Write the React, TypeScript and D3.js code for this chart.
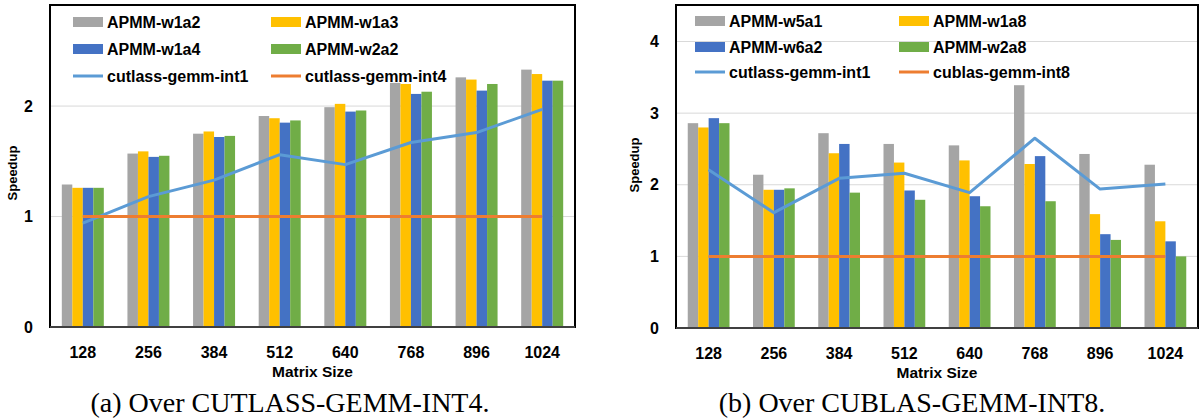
import React from "react";
import * as d3 from "d3";

const sizes = ["128", "256", "384", "512", "640", "768", "896", "1024"];

// Chart (a): over CUTLASS-GEMM-INT4
const aBarNames = ["APMM-w1a2", "APMM-w1a3", "APMM-w1a4", "APMM-w2a2"];
const aW1a2 = [1.29, 1.57, 1.75, 1.91, 1.99, 2.21, 2.26, 2.33];
const aW1a3 = [1.26, 1.59, 1.77, 1.89, 2.02, 2.2, 2.24, 2.29];
const aW1a4 = [1.26, 1.54, 1.72, 1.85, 1.95, 2.11, 2.14, 2.23];
const aW2a2 = [1.26, 1.55, 1.73, 1.87, 1.96, 2.13, 2.2, 2.23];
const aLineNames = ["cutlass-gemm-int1", "cutlass-gemm-int4"];
const aInt1 = [0.94, 1.18, 1.33, 1.56, 1.47, 1.67, 1.76, 1.97];
const aInt4 = [1, 1, 1, 1, 1, 1, 1, 1];
const aTicks = [0, 1, 2];

// Chart (b): over CUBLAS-GEMM-INT8
const bBarNames = ["APMM-w5a1", "APMM-w1a8", "APMM-w6a2", "APMM-w2a8"];
const bW5a1 = [2.86, 2.14, 2.72, 2.57, 2.55, 3.39, 2.43, 2.28];
const bW1a8 = [2.8, 1.93, 2.44, 2.31, 2.34, 2.29, 1.59, 1.49];
const bW6a2 = [2.93, 1.93, 2.57, 1.92, 1.84, 2.4, 1.31, 1.21];
const bW2a8 = [2.86, 1.95, 1.89, 1.79, 1.7, 1.77, 1.23, 1.0];
const bLineNames = ["cutlass-gemm-int1", "cublas-gemm-int8"];
const bInt1 = [2.21, 1.61, 2.09, 2.16, 1.89, 2.65, 1.94, 2.01];
const bInt8 = [1, 1, 1, 1, 1, 1, 1, 1];
const bTicks = [0, 1, 2, 3, 4];

const barColors = ["#A5A5A5", "#FFC000", "#4472C4", "#70AD47"];
const lineColors = ["#5B9BD5", "#ED7D31"];

const SANS = "'Liberation Sans', Arial, sans-serif";
const SERIF = "'Liberation Serif', 'Times New Roman', serif";

type ChartProps = {
  left: number;
  right: number;
  top: number;
  bottom: number;
  yMax: number;
  ticks: number[];
  bars: number[][];
  barNames: string[];
  lines: number[][];
  lineNames: string[];
  legendX: [number, number];
  legendY: number[];
  yLabelX: number;
  yLabelY: number;
  caption: string;
  captionX: number;
};

function Chart(p: ChartProps) {
  const x = d3
    .scaleBand<string>()
    .domain(sizes)
    .range([p.left, p.right])
    .paddingInner(0.36)
    .paddingOuter(0.18);
  const inner = d3
    .scaleBand<number>()
    .domain(d3.range(p.bars.length))
    .range([0, x.bandwidth()]);
  const y = d3.scaleLinear().domain([0, p.yMax]).range([p.bottom, p.top]);
  const cx = (s: string) => (x(s) as number) + x.bandwidth() / 2;
  const lineGen = d3
    .line<number>()
    .x((_, i) => cx(sizes[i]))
    .y((v) => y(v));

  const legendItems = [
    { kind: "bar", name: p.barNames[0], color: barColors[0] },
    { kind: "bar", name: p.barNames[1], color: barColors[1] },
    { kind: "bar", name: p.barNames[2], color: barColors[2] },
    { kind: "bar", name: p.barNames[3], color: barColors[3] },
    { kind: "line", name: p.lineNames[0], color: lineColors[0] },
    { kind: "line", name: p.lineNames[1], color: lineColors[1] },
  ];

  return (
    <g>
      {p.ticks
        .filter((t) => t > 0)
        .map((t) => (
          <line
            key={"g" + t}
            x1={p.left}
            x2={p.right}
            y1={y(t)}
            y2={y(t)}
            stroke="#D9D9D9"
            strokeWidth={1}
          />
        ))}
      {p.bars.map((series, si) =>
        series.map((v, i) => (
          <rect
            key={"b" + si + "-" + i}
            x={(x(sizes[i]) as number) + (inner(si) as number)}
            y={y(v)}
            width={inner.bandwidth()}
            height={y(0) - y(v)}
            fill={barColors[si]}
          />
        ))
      )}
      {p.lines.map((series, li) => (
        <path
          key={"l" + li}
          d={lineGen(series) || ""}
          fill="none"
          stroke={lineColors[li]}
          strokeWidth={3}
          strokeLinejoin="round"
        />
      ))}
      <rect
        x={p.left}
        y={p.top}
        width={p.right - p.left}
        height={p.bottom - p.top}
        fill="none"
        stroke="#000"
        strokeWidth={2}
      />
      <line x1={p.left} x2={p.right} y1={p.bottom} y2={p.bottom} stroke="#404040" strokeWidth={2} />
      {p.ticks.map((t) => (
        <text
          key={"t" + t}
          x={p.left - 17}
          y={y(t) + 5.5}
          textAnchor="end"
          fontFamily={SANS}
          fontWeight="bold"
          fontSize={16}
          fill="#000"
        >
          {t}
        </text>
      ))}
      {sizes.map((s) => (
        <text
          key={"x" + s}
          x={cx(s)}
          y={p.bottom + 31}
          textAnchor="middle"
          fontFamily={SANS}
          fontWeight="bold"
          fontSize={16}
          fill="#000"
        >
          {s}
        </text>
      ))}
      <text
        x={(p.left + p.right) / 2}
        y={p.bottom + 49.5}
        textAnchor="middle"
        fontFamily={SANS}
        fontWeight="bold"
        fontSize={15.5}
        fill="#000"
      >
        Matrix Size
      </text>
      <text
        transform={`translate(${p.yLabelX},${p.yLabelY}) rotate(-90)`}
        textAnchor="middle"
        dominantBaseline="central"
        fontFamily={SANS}
        fontWeight="bold"
        fontSize={13}
        fill="#000"
      >
        Speedup
      </text>
      {legendItems.map((it, k) => {
        const col = k % 2;
        const row = Math.floor(k / 2);
        const lx = p.legendX[col];
        const ly = p.legendY[row];
        return (
          <g key={"lg" + k}>
            {it.kind === "bar" ? (
              <rect x={lx} y={ly - 5} width={30} height={10} fill={it.color} />
            ) : (
              <line x1={lx} x2={lx + 30} y1={ly} y2={ly} stroke={it.color} strokeWidth={3} />
            )}
            <text
              x={lx + 34}
              y={ly}
              dominantBaseline="central"
              fontFamily={SANS}
              fontWeight="bold"
              fontSize={16}
              fill="#000"
            >
              {it.name}
            </text>
          </g>
        );
      })}
      <text
        x={p.captionX}
        y={411.5}
        textAnchor="middle"
        fontFamily={SERIF}
        fontSize={28}
        fill="#000"
      >
        {p.caption}
      </text>
    </g>
  );
}

export default function App() {
  return (
    <svg
      width={1202}
      height={418}
      style={{ position: "absolute", left: 0, top: 0, background: "#fff" }}
    >
      <rect x={0} y={0} width={1202} height={418} fill="#fff" />
      <Chart
        left={50}
        right={575}
        top={5}
        bottom={327}
        yMax={2.915}
        ticks={aTicks}
        bars={[aW1a2, aW1a3, aW1a4, aW2a2]}
        barNames={aBarNames}
        lines={[aInt1, aInt4]}
        lineNames={aLineNames}
        legendX={[73, 271]}
        legendY={[22, 49, 76]}
        yLabelX={12}
        yLabelY={173}
        caption="(a) Over CUTLASS-GEMM-INT4."
        captionX={290}
      />
      <Chart
        left={676}
        right={1198}
        top={5}
        bottom={328}
        yMax={4.51}
        ticks={bTicks}
        bars={[bW5a1, bW1a8, bW6a2, bW2a8]}
        barNames={bBarNames}
        lines={[bInt1, bInt8]}
        lineNames={bLineNames}
        legendX={[695, 899]}
        legendY={[21, 47, 72]}
        yLabelX={634}
        yLabelY={165}
        caption="(b) Over CUBLAS-GEMM-INT8."
        captionX={912}
      />
    </svg>
  );
}
